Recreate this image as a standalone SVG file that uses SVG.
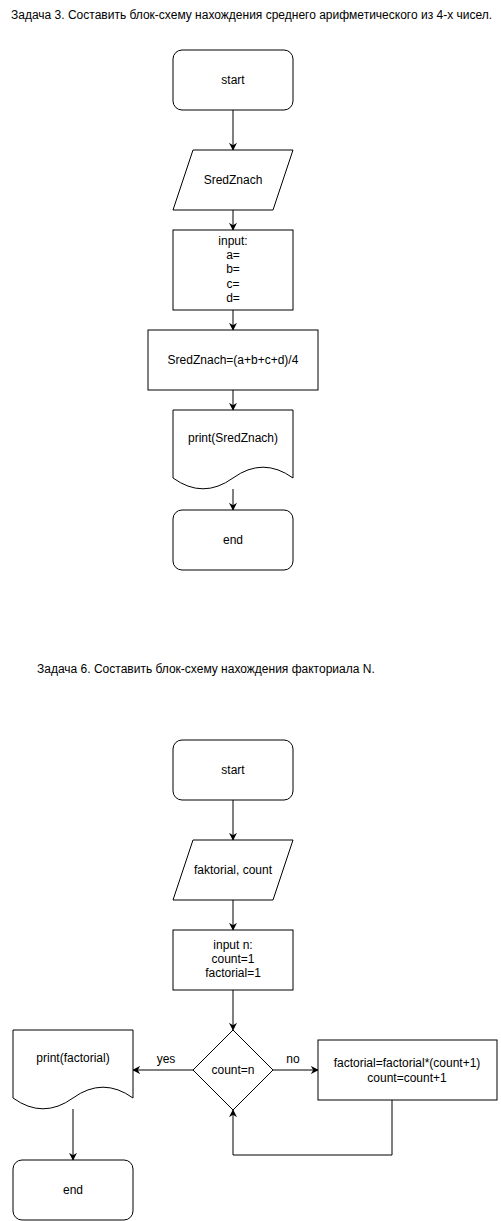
<svg xmlns="http://www.w3.org/2000/svg" width="501" height="1221" viewBox="0 0 501 1221">
<style>
.s{fill:#fff;stroke:#000;stroke-width:1}
.t{font-family:"Liberation Sans",Arial,sans-serif;font-size:12px;fill:#000;text-anchor:middle;dominant-baseline:central}
.h{font-family:"Liberation Sans",Arial,sans-serif;font-size:12px;fill:#000}
.c{fill:none;stroke:#000;stroke-width:1}
</style>
<defs>
<marker id="a" viewBox="0 0 10 10" refX="9" refY="5" markerWidth="8" markerHeight="8" markerUnits="userSpaceOnUse" orient="auto">
<path d="M0,0 L10,5 L0,10 L3,5 z" fill="#000"/>
</marker>
</defs>
<rect width="501" height="1221" fill="#fff"/>
<text class="h" x="11" y="19">Задача 3. Составить блок-схему нахождения среднего арифметического из 4-х чисел.</text>
<text class="h" x="37" y="673">Задача 6. Составить блок-схему нахождения факториала N.</text>
<g id="connectors">
<path class="c" d="M233,110 V150" marker-end="url(#a)"/>
<path class="c" d="M233,210 V230" marker-end="url(#a)"/>
<path class="c" d="M233,310 V330" marker-end="url(#a)"/>
<path class="c" d="M233,390 V410" marker-end="url(#a)"/>
<path class="c" d="M233,489 V510" marker-end="url(#a)"/>
<path class="c" d="M233,800 V840" marker-end="url(#a)"/>
<path class="c" d="M233,900 V930" marker-end="url(#a)"/>
<path class="c" d="M233,990 V1030" marker-end="url(#a)"/>
<path class="c" d="M193,1070 H133" marker-end="url(#a)"/>
<path class="c" d="M273,1070 H318" marker-end="url(#a)"/>
<path class="c" d="M392,1100 V1155 H233 V1110" marker-end="url(#a)"/>
<path class="c" d="M73,1109 V1160" marker-end="url(#a)"/>
<text class="t" x="166" y="1059">yes</text>
<text class="t" x="293" y="1059">no</text>
</g>
<g id="start1"><rect class="s" x="173" y="50" width="120" height="60" rx="9"/><text class="t" x="233" y="80">start</text></g>
<g id="io1"><path class="s" d="M193,150 H293 L273,210 H173 Z"/><text class="t" x="233" y="180">SredZnach</text></g>
<g id="input1"><rect class="s" x="173" y="230" width="120" height="80"/>
<text class="t" x="233" y="241">input:</text><text class="t" x="233" y="255">a=</text><text class="t" x="233" y="269">b=</text><text class="t" x="233" y="284">c=</text><text class="t" x="233" y="298">d=</text></g>
<g id="calc1"><rect class="s" x="148" y="330" width="170" height="60"/><text class="t" x="233" y="360">SredZnach=(a+b+c+d)/4</text></g>
<g id="print1"><path class="s" d="M173,410 H293 V478 Q263,456.4 233,478 Q203,499.6 173,478 Z"/><text class="t" x="233" y="438">print(SredZnach)</text></g>
<g id="end1"><rect class="s" x="173" y="510" width="120" height="60" rx="9"/><text class="t" x="233" y="540">end</text></g>
<g id="start2"><rect class="s" x="173" y="740" width="120" height="60" rx="9"/><text class="t" x="233" y="770">start</text></g>
<g id="io2"><path class="s" d="M193,840 H293 L273,900 H173 Z"/><text class="t" x="233" y="870">faktorial, count</text></g>
<g id="input2"><rect class="s" x="173" y="930" width="120" height="60"/>
<text class="t" x="233" y="945">input n:</text><text class="t" x="233" y="959">count=1</text><text class="t" x="233" y="973">factorial=1</text></g>
<g id="decision"><path class="s" d="M233,1030 L273,1070 L233,1110 L193,1070 Z"/><text class="t" x="233" y="1070">count=n</text></g>
<g id="calc2"><rect class="s" x="318" y="1040" width="179" height="60"/>
<text class="t" x="407" y="1063">factorial=factorial*(count+1)</text><text class="t" x="407" y="1078">count=count+1</text></g>
<g id="print2"><path class="s" d="M13,1030 H133 V1098 Q103,1076.4 73,1098 Q43,1119.6 13,1098 Z"/><text class="t" x="73" y="1058">print(factorial)</text></g>
<g id="end2"><rect class="s" x="13" y="1160" width="120" height="60" rx="9"/><text class="t" x="73" y="1190">end</text></g>
</svg>
